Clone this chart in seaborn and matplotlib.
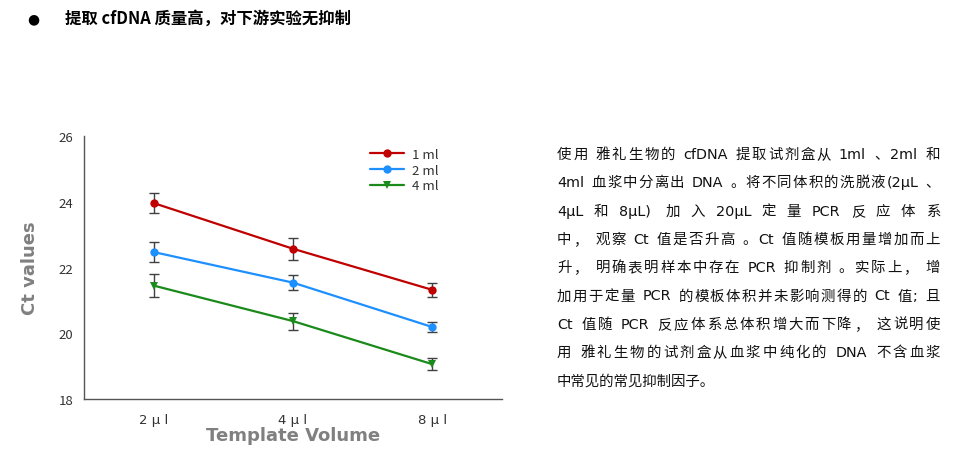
import matplotlib
matplotlib.use("Agg")
import re
import matplotlib.pyplot as plt
import numpy as np
import pandas as pd
import seaborn as sns

# data
volumes = ["2 μ l", "4 μ l", "8 μ l"]
series = ["1 ml", "2 ml", "4 ml"]
ct_1ml = [23.96, 22.57, 21.32]
ct_2ml = [22.47, 21.54, 20.19]
ct_4ml = [21.45, 20.37, 19.06]
err_1ml = [0.30, 0.33, 0.22]
err_2ml = [0.30, 0.23, 0.15]
err_4ml = [0.35, 0.26, 0.18]

colors = ["#c00000", "#1e8fff", "#1a8a1a"]
markers = ["o", "o", "v"]

rows = []
for name, vals, errs in zip(series, [ct_1ml, ct_2ml, ct_4ml], [err_1ml, err_2ml, err_4ml]):
    for i, (v, e) in enumerate(zip(vals, errs)):
        rows.append({"pos": i, "volume": volumes[i], "series": name, "ct": v, "err": e})
df = pd.DataFrame(rows)

sns.set_style("white")
plt.rcParams['font.family'] = ['Noto Sans CJK SC', 'DejaVu Sans']

fig = plt.figure(figsize=(9.72, 4.77), dpi=100)
ax = fig.add_axes([0.0864, 0.1614, 0.430, 0.5514])

# error bars first so the lines sit on top
for name in series:
    d = df[df["series"] == name]
    ax.errorbar(d["pos"], d["ct"], yerr=d["err"], fmt="none", ecolor="#404040",
                elinewidth=1.0, capsize=3.5, capthick=1.0, zorder=2)

sns.lineplot(data=df, x="pos", y="ct", hue="series", style="series",
             palette=colors, markers=markers, dashes=False, linewidth=1.6,
             markersize=6, markeredgewidth=0, ax=ax, zorder=3)

ax.set_xlim(-0.5, 2.5)
ax.set_ylim(18, 26)
ax.set_xticks(range(len(volumes)))
ax.set_xticklabels(volumes, family=["DejaVu Sans"])
ax.set_yticks([18, 20, 22, 24, 26])
ax.tick_params(axis="both", direction="out", length=4, width=1, colors="#555555",
               labelcolor="#333333", labelsize=9.5)
ax.tick_params(axis="x", pad=6)
for s in ["top", "right"]:
    ax.spines[s].set_visible(False)
for s in ["left", "bottom"]:
    ax.spines[s].set_color("#555555")
    ax.spines[s].set_linewidth(1.0)

ax.set_xlabel("Template Volume", fontsize=13, fontweight="bold", color="#808080",
              family=["DejaVu Sans"], labelpad=0)
ax.set_ylabel("Ct values", fontsize=13, fontweight="bold", color="#808080",
              family=["DejaVu Sans"], labelpad=14)

leg = ax.legend(loc="upper left", bbox_to_anchor=(0.655, 1.0), frameon=False,
                fontsize=9.5, handlelength=2.6, handletextpad=0.6, labelspacing=0.2,
                title=None)
for t in leg.get_texts():
    t.set_color("#333333")

# title line
fig.text(33 / 972, 1 - 19 / 477, "●", fontsize=10, va="center", ha="center", color="black",
         family=["DejaVu Sans"])
fig.text(65 / 972, 1 - 19 / 477, "提取 cfDNA 质量高，对下游实验无抑制", fontsize=11.8,
         fontweight="bold", va="center", ha="left", color="black")

# description text, justified between x=557 and x=940 px
lines = [
    "使用 雅礼生物的 cfDNA 提取试剂盒从 1ml 、2ml 和",
    "4ml 血浆中分离出 DNA 。将不同体积的洗脱液(2μL 、",
    "4μL 和 8μL)  加 入 20μL 定 量 PCR 反 应 体 系",
    "中， 观察 Ct 值是否升高 。Ct 值随模板用量增加而上",
    "升， 明确表明样本中存在 PCR 抑制剂 。实际上， 增",
    "加用于定量 PCR 的模板体积并未影响测得的 Ct 值; 且",
    "Ct 值随 PCR 反应体系总体积增大而下降， 这说明使",
    "用 雅礼生物的试剂盒从血浆中纯化的 DNA 不含血浆",
    "中常见的常见抑制因子。",
]
para_font = dict(fontsize=10.4, family=["DejaVu Sans", "Noto Sans CJK SC"], color="#111111")
x0, x1 = 557, 940
renderer = fig.canvas.get_renderer()
for i, line in enumerate(lines):
    y = 1 - (155 + i * 28.3) / 477
    if i == len(lines) - 1:
        fig.text(x0 / 972, y, line, va="center", ha="left", **para_font)
        continue
    # tokens: latin words / single CJK chars, spaces kept as gaps
    tokens = re.findall(r"[A-Za-z0-9μ().;]+|\s+|.", line)
    widths = []
    for tok in tokens:
        t = fig.text(0, 0, tok.replace(" ", "\u00a0") if tok.isspace() else tok, **para_font)
        widths.append(t.get_window_extent(renderer).width)
        t.remove()
    slack = max((x1 - x0) - sum(widths), 0)
    gaps = max(len(tokens) - 1, 1)
    x = x0
    for tok, w in zip(tokens, widths):
        if not tok.isspace():
            fig.text(x / 972, y, tok, va="center", ha="left", **para_font)
        x += w + slack / gaps

fig.savefig("out.png", dpi=100)
